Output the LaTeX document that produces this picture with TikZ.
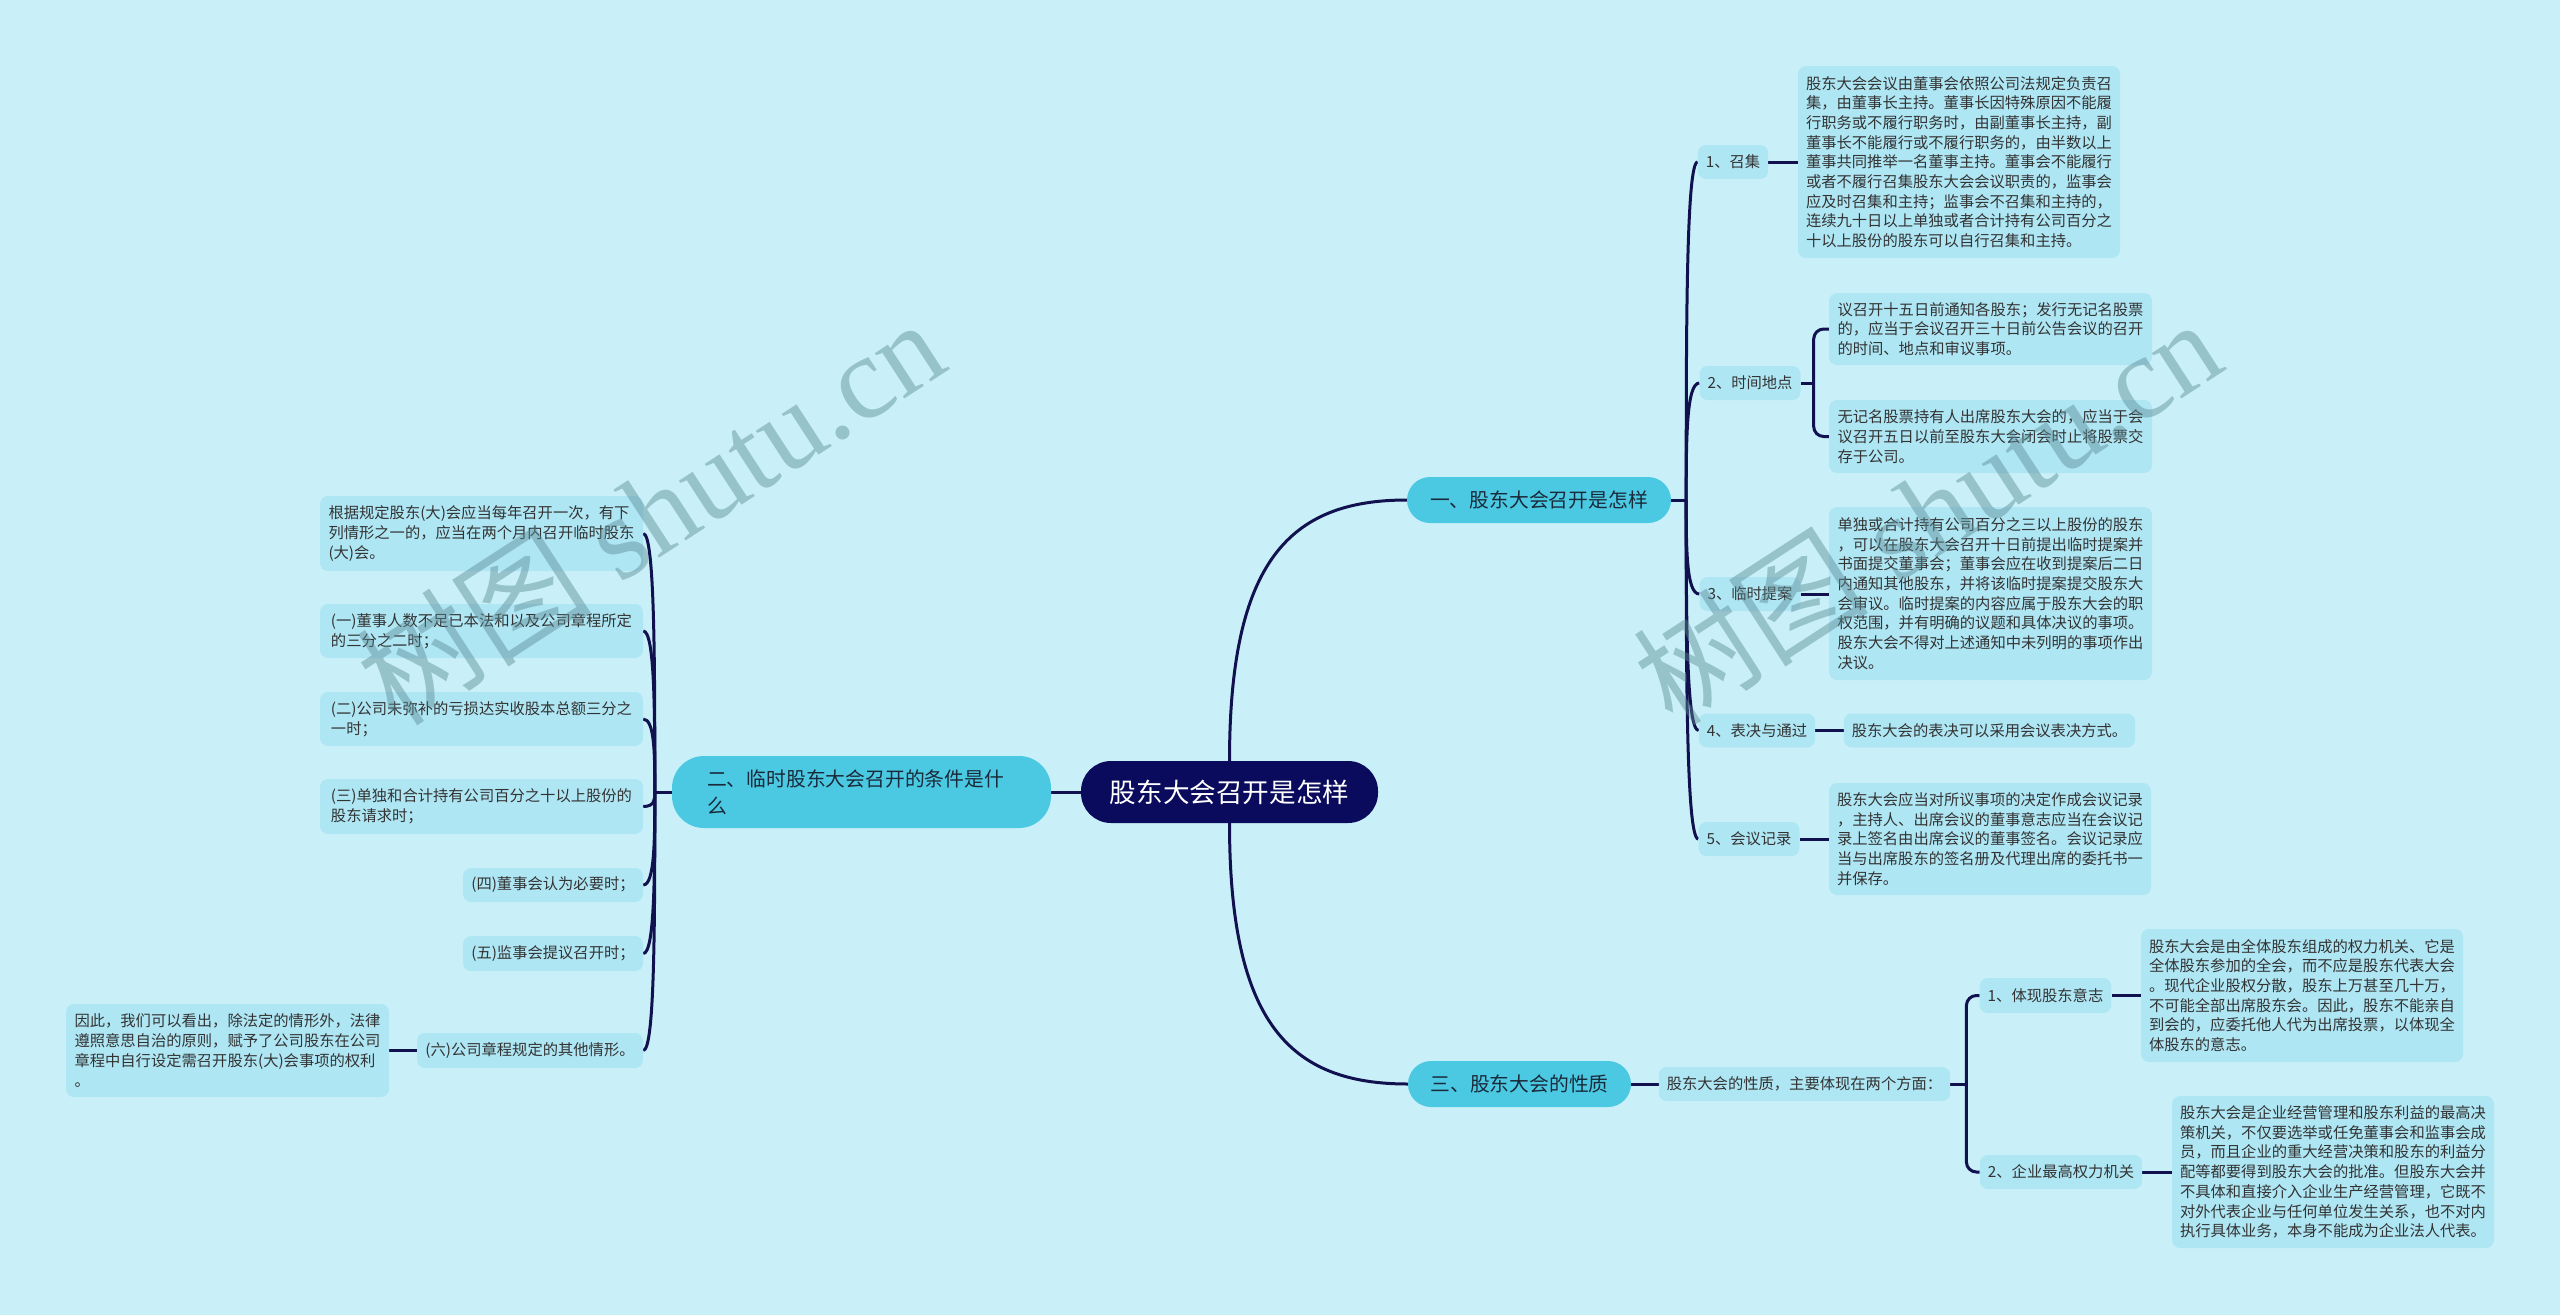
\documentclass[tikz,border=0pt]{standalone}
\usepackage{fontspec}
\setmainfont{Noto Sans CJK SC}
\newfontfamily\wmlat{Liberation Serif}
\usetikzlibrary{calc}
\definecolor{bgc}{HTML}{C9F0F8}
\definecolor{leafc}{HTML}{AFE6F4}
\definecolor{brc}{HTML}{4BC9E3}
\definecolor{rootc}{HTML}{0B0B5E}
\definecolor{linec}{HTML}{111150}
\definecolor{txt}{HTML}{333333}
\definecolor{brtxt}{HTML}{1A2A3A}
\definecolor{wmc}{HTML}{5A8A94}
\pgfdeclarelayer{bg}
\pgfsetlayers{bg,main}
\tikzset{
  conn/.style={draw=linec, line width=3pt},
  leaf/.style={fill=leafc, rounded corners=8pt, align=left, text=txt,
    font=\fontsize{15.3}{19.7}\selectfont, inner xsep=8pt, inner ysep=0pt},
  branch/.style={fill=brc, rounded corners=23pt, text=brtxt,
    font=\fontsize{19.8}{27}\selectfont, inner sep=0pt},
  rootst/.style={fill=rootc, rounded corners=30pt, text=white,
    font=\fontsize{26.6}{30}\selectfont, inner sep=0pt},
  wm/.style={rotate=33, text=wmc, text opacity=0.45, inner sep=0pt}
}
\begin{document}
\begin{tikzpicture}[x=1pt,y=-1pt]
\begin{pgfonlayer}{bg}
\fill[bgc] (0,0) rectangle (2560,1315);
\end{pgfonlayer}
\useasboundingbox (0,0) rectangle (2560,1315);

% root and branches
\node[rootst, minimum width=297pt, minimum height=62pt] (root) at (1229.5,792) {股东大会召开是怎样};
\node[branch, minimum width=264pt, minimum height=46pt] (B1) at (1539,500) {一、股东大会召开是怎样};
\node[branch, minimum width=379pt, minimum height=72pt, rounded corners=32pt, text width=309pt, align=left] (B2) at (861.5,792) {二、临时股东大会召开的条件是什\\么};
\node[branch, minimum width=223pt, minimum height=46pt] (B3) at (1519.5,1084) {三、股东大会的性质};

% branch 1 children
\node[leaf, minimum width=70pt, minimum height=34pt] (c1) at (1733,162) {1、召集};
\node[leaf, minimum width=322pt, minimum height=192pt] (L1) at (1959,162) {股东大会会议由董事会依照公司法规定负责召\\集，由董事长主持。董事长因特殊原因不能履\\行职务或不履行职务时，由副董事长主持，副\\董事长不能履行或不履行职务的，由半数以上\\董事共同推举一名董事主持。董事会不能履行\\或者不履行召集股东大会会议职责的，监事会\\应及时召集和主持；监事会不召集和主持的，\\连续九十日以上单独或者合计持有公司百分之\\十以上股份的股东可以自行召集和主持。};
\node[leaf, minimum width=100pt, minimum height=34pt] (c2) at (1750,383) {2、时间地点};
\node[leaf, minimum width=323pt, minimum height=72pt] (L2a) at (1990.5,329) {议召开十五日前通知各股东；发行无记名股票\\的，应当于会议召开三十日前公告会议的召开\\的时间、地点和审议事项。};
\node[leaf, minimum width=323pt, minimum height=73pt] (L2b) at (1990.5,436.5) {无记名股票持有人出席股东大会的，应当于会\\议召开五日以前至股东大会闭会时止将股票交\\存于公司。};
\node[leaf, minimum width=100pt, minimum height=34pt] (c3) at (1750,594) {3、临时提案};
\node[leaf, minimum width=323pt, minimum height=173pt] (L3) at (1990.5,593.5) {单独或合计持有公司百分之三以上股份的股东\\，可以在股东大会召开十日前提出临时提案并\\书面提交董事会；董事会应在收到提案后二日\\内通知其他股东，并将该临时提案提交股东大\\会审议。临时提案的内容应属于股东大会的职\\权范围，并有明确的议题和具体决议的事项。\\股东大会不得对上述通知中未列明的事项作出\\决议。};
\node[leaf, minimum width=116pt, minimum height=34pt] (c4) at (1757,730.5) {4、表决与通过};
\node[leaf, minimum width=291pt, minimum height=34pt] (L4) at (1989.5,730.5) {股东大会的表决可以采用会议表决方式。};
\node[leaf, minimum width=100pt, minimum height=34pt] (c5) at (1749,839) {5、会议记录};
\node[leaf, minimum width=322pt, minimum height=112pt] (L5) at (1990,839) {股东大会应当对所议事项的决定作成会议记录\\，主持人、出席会议的董事意志应当在会议记\\录上签名由出席会议的董事签名。会议记录应\\当与出席股东的签名册及代理出席的委托书一\\并保存。};

% branch 3 children
\node[leaf, minimum width=291pt, minimum height=34pt] (S3) at (1804.5,1084) {股东大会的性质，主要体现在两个方面：};
\node[leaf, minimum width=131pt, minimum height=35pt] (d1) at (2045.5,995.5) {1、体现股东意志};
\node[leaf, minimum width=322pt, minimum height=133pt] (M1) at (2302,995.5) {股东大会是由全体股东组成的权力机关、它是\\全体股东参加的全会，而不应是股东代表大会\\。现代企业股权分散，股东上万甚至几十万，\\不可能全部出席股东会。因此，股东不能亲自\\到会的，应委托他人代为出席投票，以体现全\\体股东的意志。};
\node[leaf, minimum width=162pt, minimum height=34pt] (d2) at (2061,1172) {2、企业最高权力机关};
\node[leaf, minimum width=322pt, minimum height=152pt] (M2) at (2333,1172) {股东大会是企业经营管理和股东利益的最高决\\策机关，不仅要选举或任免董事会和监事会成\\员，而且企业的重大经营决策和股东的利益分\\配等都要得到股东大会的批准。但股东大会并\\不具体和直接介入企业生产经营管理，它既不\\对外代表企业与任何单位发生关系，也不对内\\执行具体业务，本身不能成为企业法人代表。};

% branch 2 children
\node[leaf, minimum width=323pt, minimum height=75pt] (e0) at (481.5,533.5) {根据规定股东(大)会应当每年召开一次，有下\\列情形之一的，应当在两个月内召开临时股东\\(大)会。};
\node[leaf, minimum width=323pt, minimum height=54pt] (e1) at (481.5,631) {(一)董事人数不足已本法和以及公司章程所定\\的三分之二时；};
\node[leaf, minimum width=323pt, minimum height=54pt] (e2) at (481.5,719) {(二)公司未弥补的亏损达实收股本总额三分之\\一时；};
\node[leaf, minimum width=323pt, minimum height=55pt] (e3) at (481.5,806.5) {(三)单独和合计持有公司百分之十以上股份的\\股东请求时；};
\node[leaf, minimum width=180pt, minimum height=34pt] (e4) at (553,885) {(四)董事会认为必要时；};
\node[leaf, minimum width=180pt, minimum height=35pt] (e5) at (553,953.5) {(五)监事会提议召开时；};
\node[leaf, minimum width=226pt, minimum height=35pt] (e6) at (530,1050.5) {(六)公司章程规定的其他情形。};
\node[leaf, minimum width=323pt, minimum height=93pt] (f6) at (227.5,1050.5) {因此，我们可以看出，除法定的情形外，法律\\遵照意思自治的原则，赋予了公司股东在公司\\章程中自行设定需召开股东(大)会事项的权利\\。};

% watermarks
\node[wm, font=\fontsize{118}{118}\selectfont] (wm1) at (650,511) {树图\wmlat\ shutu.cn};
\node[wm, font=\fontsize{118}{118}\selectfont] (wm2) at (1927,511) {树图\wmlat\ shutu.cn};

\begin{pgfonlayer}{bg}
% root connectors
\draw[conn] (root.west) -- (B2.east);
\draw[conn] (root.north) .. controls +(0,-200) and +(-117,0) .. (B1.west);
\draw[conn] (root.south) .. controls +(0,200) and +(-118,0) .. (B3.west);
% branch 1
\draw[conn] (B1.east) -- ++(15,0) coordinate (s1);
\foreach \c in {c1,c2,c3,c4,c5}{
  \draw[conn] (s1) .. controls ($(s1)!0.5!(s1 |- \c.west)$) and (s1 |- \c.west) .. (\c.west);
}
\draw[conn] (c1.east) -- (L1.west);
\draw[conn] (c2.east) -- ++(13,0) coordinate (k2);
\draw[conn, rounded corners=10pt] (L2a.west) -| (k2) |- (L2b.west);
\draw[conn] (c3.east) -- (c3.east -| L3.west);
\draw[conn] (c4.east) -- (L4.west);
\draw[conn] (c5.east) -- (L5.west);
% branch 3
\draw[conn] (B3.east) -- (S3.west);
\draw[conn] (S3.east) -- ++(16,0) coordinate (k3);
\draw[conn, rounded corners=10pt] (d1.west) -| (k3) |- (d2.west);
\draw[conn] (d1.east) -- (M1.west);
\draw[conn] (d2.east) -- (M2.west);
% branch 2
\draw[conn] (B2.west) -- ++(-17,0) coordinate (s2);
\foreach \c in {e0,e1,e2,e3,e4,e5,e6}{
  \draw[conn] (s2) .. controls ($(s2)!0.5!(s2 |- \c.east)$) and (s2 |- \c.east) .. (\c.east);
}
\draw[conn] (e6.west) -- (f6.east);
\end{pgfonlayer}
\end{tikzpicture}
\end{document}
